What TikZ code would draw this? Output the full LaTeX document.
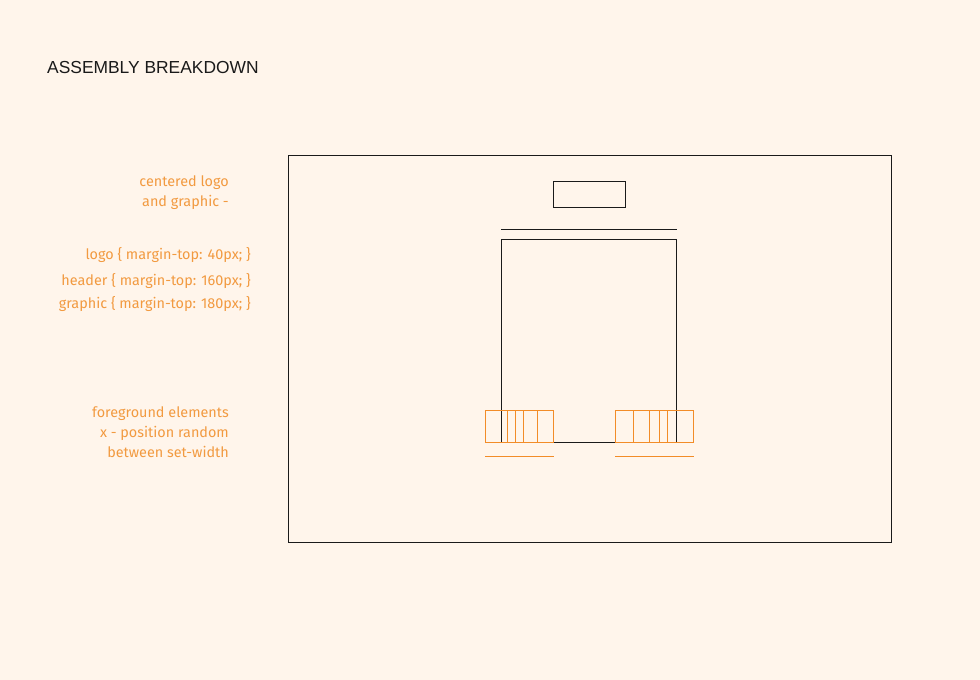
\documentclass[tikz,border=0pt]{standalone}
\usepackage{fontspec}
\setmainfont{Fira Sans}
\newfontfamily\titlefont{Liberation Sans}
\definecolor{bg}{HTML}{FFF5EB}
\definecolor{orng}{HTML}{F28C28}
\definecolor{otext}{HTML}{F29A40}
\definecolor{ink}{HTML}{1A1A1A}
\begin{document}
\begin{tikzpicture}[x=1pt,y=-1pt,
  blk/.style={draw=ink,line width=0.9pt},
  org/.style={draw=orng,line width=0.9pt},
  note/.style={text=otext,font=\fontsize{14.4}{16}\selectfont,anchor=mid east,inner sep=0pt},
  title/.style={text=ink,font=\titlefont\fontsize{17.4}{19}\selectfont,anchor=mid west,inner sep=0pt}]
\fill[bg] (0,0) rectangle (980,680);
\useasboundingbox (0,0) rectangle (980,680);
\node[title] (t) at (47,71) {ASSEMBLY BREAKDOWN};
\node[note] (n1) at (229,184) {centered logo};
\node[note] (n2) at (229,204) {and graphic -};
\node[note] (n3) at (251,257) {logo \{ margin-top: 40px; \}};
\node[note] (n4) at (251,283) {header \{ margin-top: 160px; \}};
\node[note] (n5) at (251,306) {graphic \{ margin-top: 180px; \}};
\node[note] (n6) at (229,415) {foreground elements};
\node[note] (n7) at (229,435) {x - position random};
\node[note] (n8) at (229,455) {between set-width};
% frame
\draw[blk] (288.5,155.5) rectangle (891,542);
% logo
\draw[blk] (553.5,181.5) rectangle (625.5,207.5);
% header
\draw[blk] (501,229.5) -- (676.5,229.5);
% graphic
\draw[blk] (501.5,442.5) -- (501.5,239.5) -- (676.5,239.5) -- (676.5,442.5);
\draw[blk] (553.5,442.5) -- (615.5,442.5);
% left foreground
\draw[org] (485.5,410.5) rectangle (553.5,442.5);
\foreach \x in {507.5,515.5,523.5,537.5} \draw[org] (\x,410.5) -- (\x,442.5);
\draw[org] (485,456.5) -- (554,456.5);
% right foreground
\draw[org] (615.5,410.5) rectangle (693.5,442.5);
\foreach \x in {633.5,649.5,659.5,667.5} \draw[org] (\x,410.5) -- (\x,442.5);
\draw[org] (615,456.5) -- (694,456.5);
\end{tikzpicture}
\end{document}
